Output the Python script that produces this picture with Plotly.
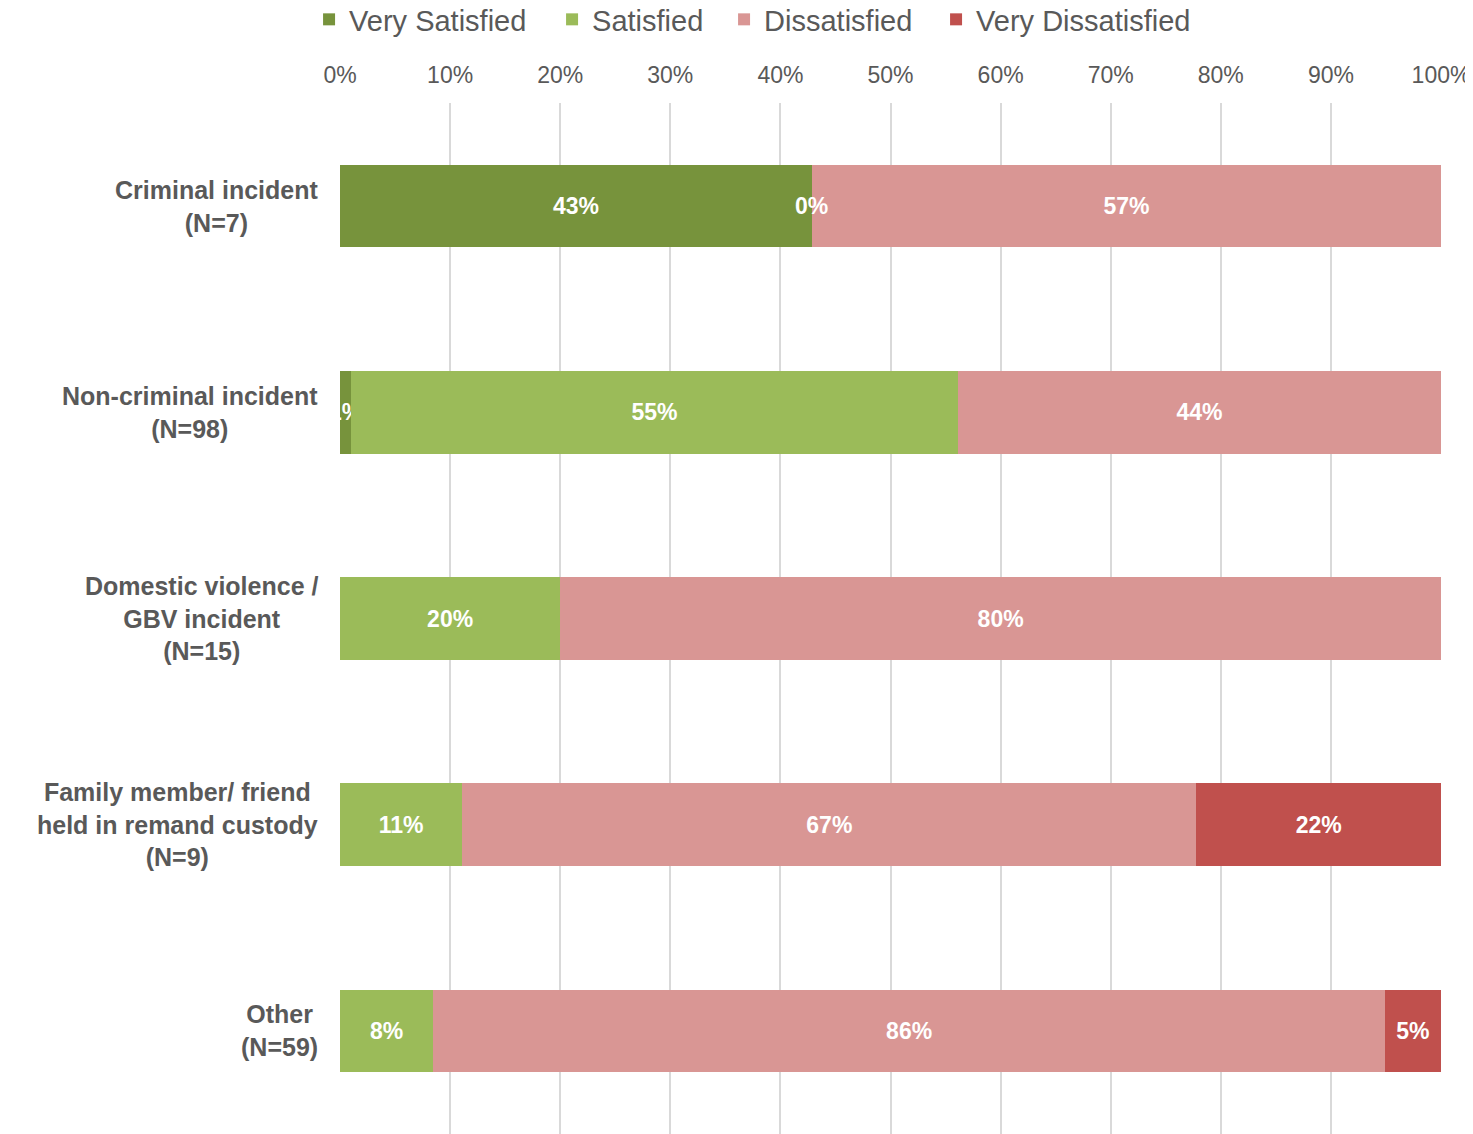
import plotly.graph_objects as go

categories = [
    "Criminal incident<br>(N=7)",
    "Non-criminal incident<br>(N=98)",
    "Domestic violence /<br>GBV incident<br>(N=15)",
    "Family member/ friend<br>held in remand custody<br>(N=9)",
    "Other<br>(N=59)",
]
very_satisfied = [42.86, 1.02, None, None, None]
satisfied = [0, 55.10, 20.0, 11.11, 8.47]
dissatisfied = [57.14, 43.88, 80.0, 66.67, 86.44]
very_dissatisfied = [None, None, None, 22.22, 5.08]

# name, values, colour, legend entry width (px)
series = [
    ("Very Satisfied", very_satisfied, "#77933C", 198),
    ("Satisfied", satisfied, "#9BBB59", 127),
    ("Dissatisfied", dissatisfied, "#D99694", 167),
    ("Very Dissatisfied", very_dissatisfied, "#C0504D", None),
]

GREY = "#595959"
FONT = "Liberation Sans"

fig = go.Figure()
for name, vals, color, lw in series:
    fig.add_trace(go.Bar(
        name=name,
        y=categories,
        x=[v / 100 if v is not None else None for v in vals],
        orientation="h",
        marker=dict(color=color, line=dict(width=0)),
        text=[f"{round(v)}%" if v is not None else "" for v in vals],
        textposition="inside",
        insidetextanchor="middle",
        textangle=0,
        constraintext="none",
        textfont=dict(family=FONT, size=23, color="white", weight="bold"),
        cliponaxis=True,
        legendwidth=lw,
    ))

# zero-width segment label (Excel still prints it at the segment boundary)
for i, cat in enumerate(categories):
    if satisfied[i] == 0:
        fig.add_annotation(
            x=(very_satisfied[i] or 0) / 100, y=cat, text="0%",
            showarrow=False, xanchor="center",
            font=dict(family=FONT, size=23, color="white", weight="bold"),
        )

# category labels, centred like the Excel axis
for cat in categories:
    fig.add_annotation(
        x=0, xref="paper", y=cat, yref="y", text=cat,
        showarrow=False, xanchor="right", align="center", xshift=-20,
        font=dict(family=FONT, size=25, color=GREY, weight="bold"),
    )

fig.update_layout(
    barmode="stack",
    bargap=0.6,
    width=1465,
    height=1126,
    margin=dict(l=332, r=32, t=95, b=0, autoexpand=False),
    plot_bgcolor="white",
    paper_bgcolor="white",
    font=dict(family=FONT, color=GREY),
    uniformtext=dict(minsize=23, mode="show"),
    legend=dict(
        orientation="h",
        x=-0.0281, xref="paper", xanchor="left",
        y=1.081, yref="paper", yanchor="middle",
        font=dict(family=FONT, size=29, color=GREY),
        traceorder="normal",
    ),
    xaxis=dict(
        side="top",
        range=[0, 1],
        dtick=0.1,
        tickformat=".0%",
        showgrid=True,
        gridcolor="#D9D9D9",
        gridwidth=2,
        zeroline=False,
        tickfont=dict(family=FONT, size=23, color=GREY),
        ticks="",
        ticklabelstandoff=14,
    ),
    yaxis=dict(
        autorange="reversed",
        showgrid=False,
        showline=False,
        ticks="",
        showticklabels=False,
    ),
)

fig.write_html("out.html")
